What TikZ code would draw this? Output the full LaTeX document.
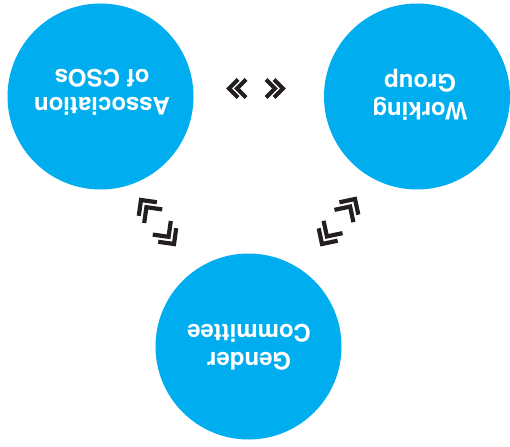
\documentclass[tikz,border=0pt]{standalone}
\usepackage{fontspec}
\setmainfont{TeX Gyre Heros}
\definecolor{cyanblue}{HTML}{00AEEF}
\definecolor{chevcol}{HTML}{231F20}
\tikzset{
  circ/.style={circle, fill=cyanblue, draw=none, minimum size=186pt, inner sep=0pt},
  lbl/.style={text=white, font=\bfseries\fontsize{24}{28}\selectfont, align=center, rotate=180, inner sep=0pt},
  chevline/.style={draw=chevcol, line width=4.2pt, line join=miter, line cap=butt},
  chevh/.pic={\draw[chevline] (-9,-9)--(0,0)--(-9,9) (-17,-9)--(-8,0)--(-17,9);},
  chevd/.pic={\draw[chevline] (-11.3,-11.3)--(0,0)--(-11.3,11.3) (-20.3,-11.3)--(-9,0)--(-20.3,11.3);}
}
\begin{document}
\begin{tikzpicture}[x=1pt,y=-1pt]
\useasboundingbox (0,0) rectangle (510,446);
\node[circ] (A) at (100.5,96.5) {};
\node[circ] (W) at (417,96.5) {};
\node[circ] (G) at (248.5,346.5) {};
\node[lbl] (tA) at (102,92) {Association\\of CSOs};
\node[lbl] (tW) at (420,95) {Working\\Group};
\node[lbl] (tG) at (249,347) {Gender\\Committee};
\pic[rotate=180] (c1) at (229,88.5) {chevh};
\pic[rotate=0] (c2) at (283,88.5) {chevh};
\pic[rotate=127] (c3) at (141,200) {chevd};
\pic[rotate=-53] (c4) at (174,244) {chevd};
\pic[rotate=57] (c5) at (355,199) {chevd};
\pic[rotate=237] (c6) at (322,244) {chevd};
\end{tikzpicture}
\end{document}
